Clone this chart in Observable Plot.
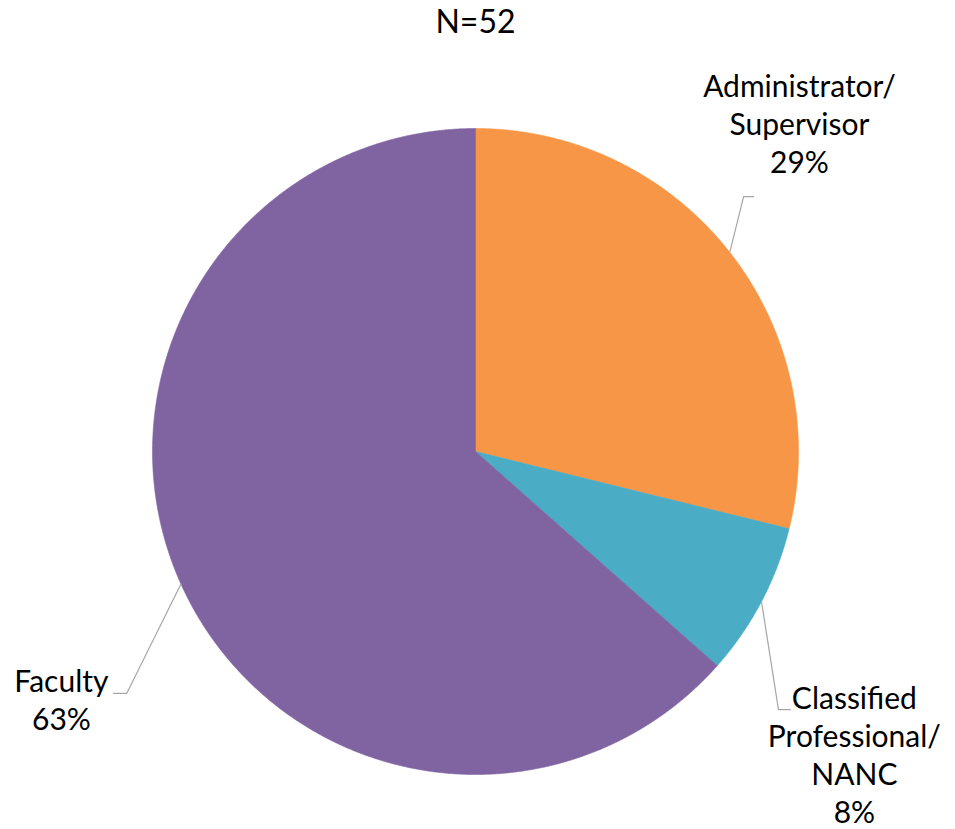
<!DOCTYPE html>
<html>
<head>
<meta charset="utf-8">
<script src="https://cdn.jsdelivr.net/npm/d3@7"></script>
<script src="https://cdn.jsdelivr.net/npm/@observablehq/plot@0.6"></script>
<style>
  html, body { margin: 0; padding: 0; background: #ffffff; }
  #chart svg { display: block; }
</style>
</head>
<body>
<div id="chart"></div>
<script>
// ---- Data ----
const titleText = "N=52";
const categories = ["Administrator/\nSupervisor", "Classified\nProfessional/\nNANC", "Faculty"];
const counts = [15, 4, 33];
const percentLabels = ["29%", "8%", "63%"];

// ---- Styles / layout (not data) ----
const palette = ["#F79646", "#4BACC6", "#8064A2"];
const fontSize = 30;
const titleSize = 32;
// label placement in radius units (pie radius = 1): text top-centre, leader elbow and end
const labelLayout = [
  {tx: 1.003, ty: 1.181, ex: 0.830, ey: 0.789, endx: 0.861},
  {tx: 1.173, ty: -0.714, ex: 0.938, ey: -0.799, endx: 0.975},
  {tx: -1.282, ty: -0.661, ex: -1.080, ey: -0.749, endx: -1.121}
];

const total = d3.sum(counts);
let acc = 0;
const slices = counts.map((c, i) => {
  const start = acc / total * 2 * Math.PI;
  acc += c;
  const end = acc / total * 2 * Math.PI;
  return {i, start, end, mid: (start + end) / 2};
});

function slicePoints(s) {
  const pts = [{x: 0, y: 0}];
  const n = Math.max(4, Math.ceil((s.end - s.start) / (Math.PI / 720)));
  for (let k = 0; k <= n; k++) {
    const a = s.start + (s.end - s.start) * k / n;
    pts.push({x: Math.sin(a), y: Math.cos(a)});
  }
  pts.push({x: 0, y: 0});
  return pts;
}

const circlePts = slicePoints({start: 0, end: 2 * Math.PI});

const leaders = slices.map((s, i) => {
  const L = labelLayout[i];
  return [
    {x: Math.sin(s.mid), y: Math.cos(s.mid)},
    {x: L.ex, y: L.ey},
    {x: L.endx, y: L.ey}
  ];
});

const labels = slices.map((s, i) => ({
  x: labelLayout[i].tx,
  y: labelLayout[i].ty,
  text: categories[i] + "\n" + percentLabels[i]
}));

const plot = Plot.plot({
  width: 955,
  height: 829,
  marginLeft: 152,
  marginRight: 157,
  marginTop: 128,
  marginBottom: 55,
  x: {domain: [-1, 1], axis: null},
  y: {domain: [-1, 1], axis: null},
  style: {fontFamily: "Lato, 'Open Sans', sans-serif", background: "#ffffff", overflow: "visible"},
  marks: [
    Plot.line(circlePts, {x: "x", y: "y", fill: "#000", fillOpacity: 0.55, stroke: "none", curve: "linear", ariaLabel: "pie-shadow"}),
    ...slices.map((s, i) => Plot.line(slicePoints(s), {
      x: "x", y: "y", fill: palette[i], stroke: palette[i], strokeWidth: 0.6, curve: "linear"
    })),
    ...leaders.map(pts => Plot.line(pts, {x: "x", y: "y", stroke: "#a6a6a6", strokeWidth: 1.2, curve: "linear"})),
    Plot.text(labels, {
      x: "x", y: "y", text: "text", textAnchor: "middle", lineAnchor: "top",
      fontSize: fontSize, lineHeight: 38 / fontSize, fill: "#000000"
    }),
    Plot.text([titleText], {
      x: 0, y: 1.365, text: d => d, textAnchor: "middle", lineAnchor: "top",
      fontSize: titleSize, fill: "#000000"
    })
  ]
});

d3.select(plot).selectAll("g[aria-label='pie-shadow']").style("filter", "blur(5px)");
document.getElementById("chart").appendChild(plot);
</script>
</body>
</html>
